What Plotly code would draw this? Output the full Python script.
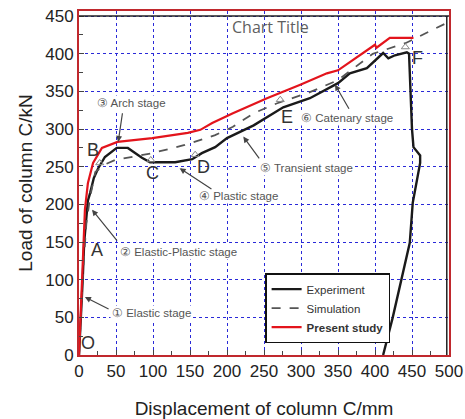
import plotly.graph_objects as go

# ---- data ----
exp_x = [0, 3, 5, 7, 10, 12, 15, 20, 26, 35, 51, 66, 85, 96, 130, 153, 166, 184, 200, 236, 276,
         312, 350, 366, 389, 407, 411, 418, 427, 443, 446, 448, 450, 452, 455, 461, 461, 451, 447,
         436, 424, 411]
exp_y = [0, 50, 100, 150, 190, 205, 215, 235, 248, 263, 275, 275, 262, 256, 256, 260, 268, 276, 288,
         305, 329, 341, 361, 374, 381, 398, 401, 394, 398, 402, 400, 350, 300, 276, 272, 265, 255,
         202, 149, 100, 50, 0]

sim_x = [0, 3, 6, 10, 15, 22, 35, 49, 99, 143, 184, 208, 236, 267, 312, 350, 397, 441, 499]
sim_y = [0, 60, 120, 175, 210, 243, 253, 259, 268, 279, 292, 303, 321, 334, 349, 365, 400, 414, 442]

pres_x = [0, 4, 7, 8, 12, 19, 31, 52, 99, 147, 164, 180, 208, 254, 299, 335, 350, 400, 402, 420, 452]
pres_y = [0, 100, 175, 193, 228, 255, 275, 283, 288, 295, 299, 308, 321, 341, 359, 374, 378, 412,
          408, 421, 421]

tri_x = [28, 97, 157, 272, 441]
tri_y = [255, 259, 266, 339, 409]

point_labels = ["O", "A", "B", "C", "D", "E", "F"]
point_x = [12, 24, 19, 99, 168, 281, 457]
point_y = [16, 140, 272, 242, 250, 316, 394]

stage_labels = ["① Elastic stage", "② Elastic-Plastic stage", "③ Arch stage",
                "④ Plastic stage", "⑤ Transient stage", "⑥ Catenary stage"]
stage_x = [98, 134, 71, 216, 308, 362]
stage_y = [56, 137, 335, 211, 248, 315]
arrow_from_x = [42, 53, 59, 181, 245, 366]
arrow_from_y = [60, 150, 323, 219, 259, 325]
arrow_to_x = [8, 17.6, 53, 136, 222, 346]
arrow_to_y = [77, 193, 283, 248, 290, 359]

x_ticks = list(range(0, 501, 50))
y_ticks = list(range(0, 451, 50))

fig = go.Figure()
fig.add_trace(go.Scatter(x=exp_x, y=exp_y, mode="lines", name="Experiment",
                         line=dict(color="#1a1a1a", width=2.4)))
fig.add_trace(go.Scatter(x=sim_x, y=sim_y, mode="lines", name="Simulation",
                         line=dict(color="#555555", width=1.8, dash="dash")))
fig.add_trace(go.Scatter(x=pres_x, y=pres_y, mode="lines", name="<b>Present study</b>",
                         line=dict(color="#e3141c", width=2.2)))
fig.add_trace(go.Scatter(x=tri_x, y=tri_y, mode="markers", showlegend=False,
                         marker=dict(symbol="triangle-up-open", size=7, color="#888888",
                                     line=dict(width=1))))

for t, x, y in zip(point_labels, point_x, point_y):
    fig.add_annotation(x=x, y=y, text=t, showarrow=False,
                       font=dict(family="Liberation Sans", size=18, color="#333333"))

for t, x, y in zip(stage_labels, stage_x, stage_y):
    fig.add_annotation(x=x, y=y, text=t, showarrow=False, bgcolor="white",
                       font=dict(family="Liberation Sans", size=11.5, color="#555555"))

for fx, fy, tx, ty in zip(arrow_from_x, arrow_from_y, arrow_to_x, arrow_to_y):
    fig.add_annotation(x=tx, y=ty, ax=fx, ay=fy, axref="x", ayref="y", text="",
                       showarrow=True, arrowhead=2, arrowsize=1, arrowwidth=1.2,
                       arrowcolor="#444444")

fig.add_annotation(x=259, y=436, text="Chart Title", showarrow=False,
                   font=dict(family="Open Sans", size=16, color="#5f5f5f"))

# original figure frame lines
fig.add_shape(type="line", x0=0, x1=500, y0=450, y1=450, line=dict(color="#222222", width=1.5))
fig.add_shape(type="line", x0=497, x1=497, y0=0, y1=450, line=dict(color="#222222", width=1.5))

grid = dict(showgrid=True, gridcolor="#2a2ad8", griddash="dot", gridwidth=1.4)
common = dict(ticks="inside", ticklen=5, tickcolor="#444",
              minor=dict(ticks="inside", dtick=25, ticklen=4, tickcolor="#444"),
              showline=True, linecolor="#c0282d", linewidth=2, mirror=True, zeroline=False,
              automargin=False, ticklabeloverflow="allow",
              tickfont=dict(family="Liberation Sans", size=17, color="#222222"))
fig.update_xaxes(range=[0, 500], tickvals=x_ticks,
                 title=dict(text="Displacement of column C/mm", standoff=21,
                            font=dict(family="Liberation Sans", size=19, color="#222222")),
                 **common, **grid)
fig.update_yaxes(range=[0, 456.8], tickvals=y_ticks,
                 title=dict(text="Load of column C/kN", standoff=8,
                            font=dict(family="Liberation Sans", size=19, color="#222222")),
                 **common, **grid)

fig.update_layout(
    width=465, height=419,
    margin=dict(l=79, r=16, t=11, b=64),
    paper_bgcolor="white", plot_bgcolor="white",
    legend=dict(x=0.503, y=0.238, xanchor="left", yanchor="top",
                bgcolor="white", bordercolor="#111111", borderwidth=1.5,
                font=dict(family="Liberation Sans", size=11.5, color="#333333"),
                itemwidth=30, tracegroupgap=0),
    showlegend=True,
)

fig.write_html("out.html", config={"displayModeBar": False},
               post_script="document.body.style.margin='0';document.body.style.overflow='hidden';")
